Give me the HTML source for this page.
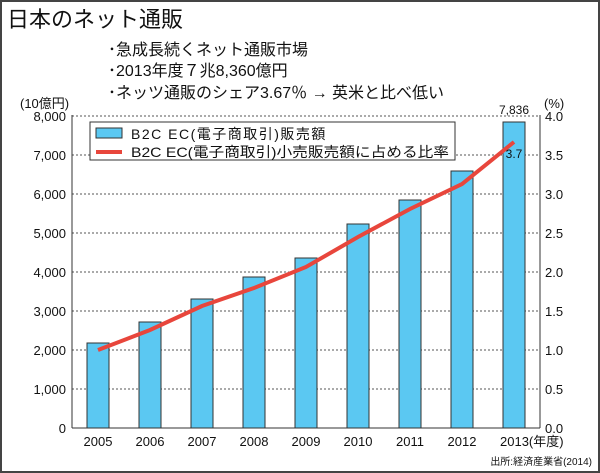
<!DOCTYPE html><html><head><meta charset="utf-8"><style>
body{margin:0;background:#fff}
svg{display:block}
text{font-family:"Liberation Sans","Noto Sans CJK JP",sans-serif;fill:#111}
</style></head><body>
<svg width="600" height="473" viewBox="0 0 600 473">
<rect x="1" y="1" width="598" height="471" fill="#fff" stroke="#444" stroke-width="2"/>
<text x="7" y="27" font-size="22">日本のネット通販</text>
<text x="108" y="55" font-size="16">･急成長続くネット通販市場</text>
<text x="108" y="76" font-size="16">･2013年度７兆8,360億円</text>
<text x="108" y="98" font-size="16">･ネッツ通販のシェア3.67％ → 英米と比べ低い</text>
<text x="20" y="108" font-size="13">(10億円)</text>
<text x="544" y="108" font-size="13">(%)</text>
<g stroke="#555" stroke-dasharray="2,2" stroke-width="1">
<line x1="72" y1="116" x2="540" y2="116"/><line x1="72" y1="155" x2="540" y2="155"/>
<line x1="72" y1="194" x2="540" y2="194"/><line x1="72" y1="233" x2="540" y2="233"/>
<line x1="72" y1="272" x2="540" y2="272"/><line x1="72" y1="311" x2="540" y2="311"/>
<line x1="72" y1="350" x2="540" y2="350"/><line x1="72" y1="389" x2="540" y2="389"/>
</g>
<g fill="#5bc8f2" stroke="#333" stroke-width="1">
<rect x="87" y="343" width="22" height="85"/><rect x="139" y="322" width="22" height="106"/>
<rect x="191" y="299" width="22" height="129"/><rect x="243" y="277" width="22" height="151"/>
<rect x="295" y="258" width="22" height="170"/><rect x="347" y="224" width="22" height="204"/>
<rect x="399" y="200" width="22" height="228"/><rect x="451" y="171" width="22" height="257"/>
<rect x="503" y="122" width="22" height="306"/>
</g>
<polyline points="98,350 150,330 202,306 254,288 306,267 358,237 410,209 462,184 514,142" fill="none" stroke="#e8463c" stroke-width="4"/>
<line x1="72" y1="115" x2="72" y2="428" stroke="#333"/>
<line x1="540" y1="115" x2="540" y2="428" stroke="#333"/>
<line x1="72" y1="428" x2="540" y2="428" stroke="#333"/>
<rect x="90" y="122" width="365" height="38" fill="#fff" stroke="#333"/>
<rect x="96" y="128" width="26" height="10" fill="#5bc8f2" stroke="#333"/>
<line x1="96" y1="152" x2="122" y2="152" stroke="#e8463c" stroke-width="4"/>
<text x="131" y="139" font-size="14" letter-spacing="1.5">B2C EC(電子商取引)販売額</text>
<text x="131" y="157" font-size="14" textLength="318" lengthAdjust="spacingAndGlyphs">B2C EC(電子商取引)小売販売額に占める比率</text>
<text x="514" y="114" font-size="12" text-anchor="middle">7,836</text>
<text x="514" y="158" font-size="12" text-anchor="middle">3.7</text>
<g font-size="13" text-anchor="end">
<text x="66" y="121">8,000</text><text x="66" y="160">7,000</text><text x="66" y="199">6,000</text>
<text x="66" y="238">5,000</text><text x="66" y="277">4,000</text><text x="66" y="316">3,000</text>
<text x="66" y="355">2,000</text><text x="66" y="394">1,000</text><text x="66" y="433">0</text>
</g>
<g font-size="13">
<text x="545" y="121">4.0</text><text x="545" y="160">3.5</text><text x="545" y="199">3.0</text>
<text x="545" y="238">2.5</text><text x="545" y="277">2.0</text><text x="545" y="316">1.5</text>
<text x="545" y="355">1.0</text><text x="545" y="394">0.5</text><text x="545" y="433">0.0</text>
</g>
<g font-size="13" text-anchor="middle">
<text x="98" y="446">2005</text><text x="150" y="446">2006</text><text x="202" y="446">2007</text>
<text x="254" y="446">2008</text><text x="306" y="446">2009</text><text x="358" y="446">2010</text>
<text x="410" y="446">2011</text><text x="462" y="446">2012</text>
</g>
<text x="500" y="446" font-size="13">2013(年度)</text>
<text x="592" y="465" font-size="10" text-anchor="end">出所:経済産業省(2014)</text>
</svg>
</body></html>
